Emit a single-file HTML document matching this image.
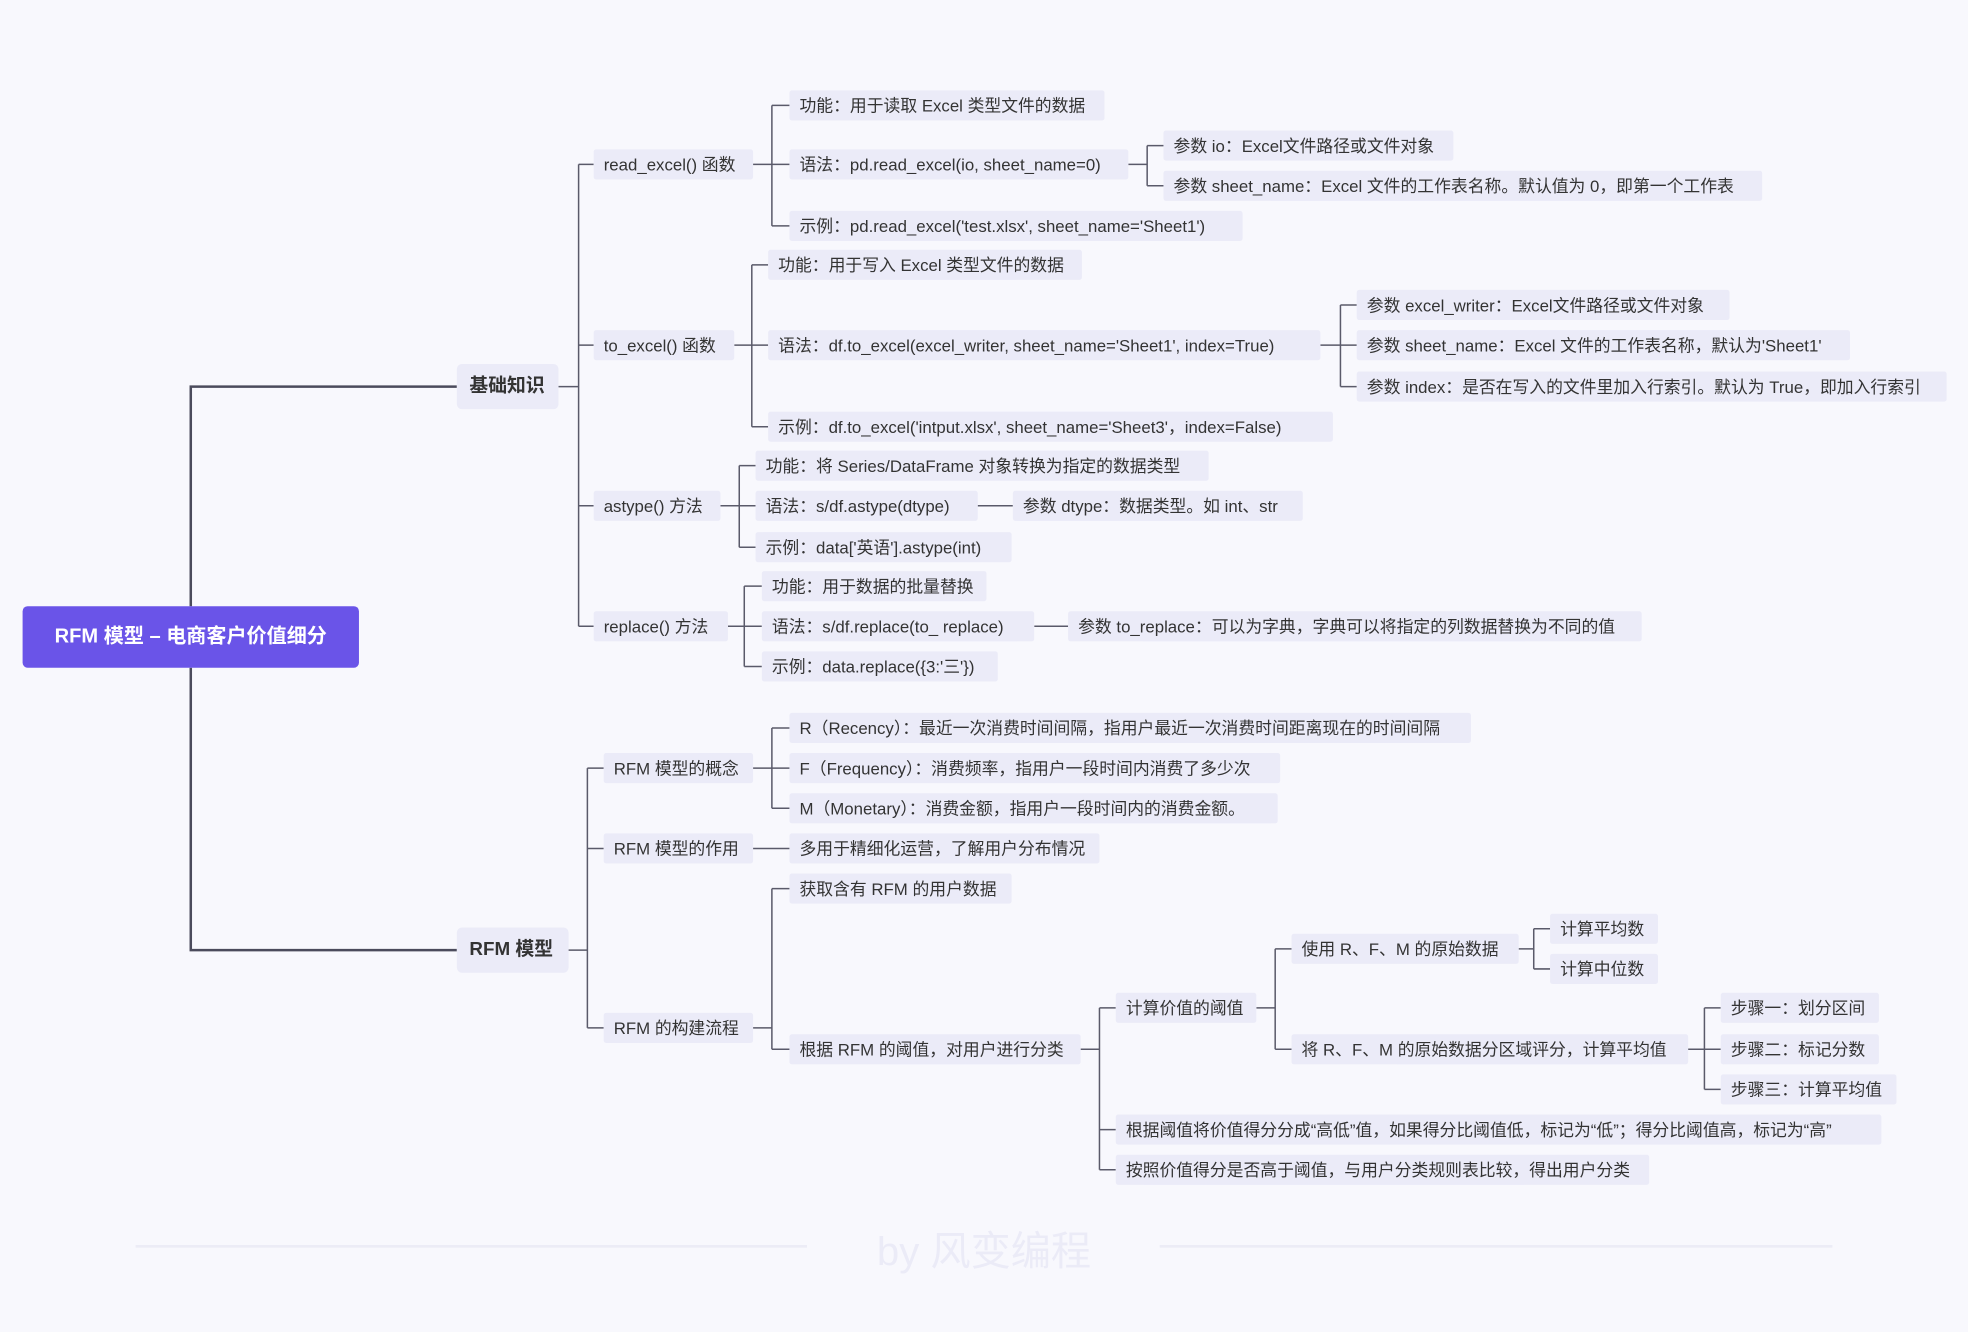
<!DOCTYPE html>
<html><head><meta charset="utf-8">
<style>
html,body{margin:0;padding:0;background:#f8f8fd;}
#wrap{position:relative;width:1568px;height:1061px;transform:scale(1.2551);transform-origin:0 0;font-family:"Liberation Sans","Noto Sans CJK SC",sans-serif;}
.b{position:absolute;height:24px;line-height:25px;background:#ebebf8;color:#333;font-size:13.4px;padding-left:8px;box-sizing:border-box;white-space:nowrap;border-radius:2px;}
.l1{height:36px;line-height:36px;font-size:15px;border-radius:4px;padding-left:10px;font-weight:bold;}
#root{position:absolute;left:18px;top:483px;width:268px;height:49px;line-height:49px;background:#6a54e8;color:#fff;font-size:16px;font-weight:bold;text-align:center;border-radius:4px;}
svg{position:absolute;left:0;top:0;}
#wm{position:absolute;left:0;width:1568px;top:972px;text-align:center;font-size:32px;color:#ebebf7;}
</style></head><body>
<div id="wrap">
<svg id="s" width="1568" height="1061">
<line x1="108" y1="993" x2="643" y2="993" stroke="#ececf6" stroke-width="2"/>
<line x1="924" y1="993" x2="1460" y2="993" stroke="#ececf6" stroke-width="2"/>
<path d="M152 483 V308 H364 M152 532 V757 H364" fill="none" stroke="#4b4b5c" stroke-width="2"/>
</svg>
<div id="wm">by 风变编程</div>
<div id="root">RFM 模型 – 电商客户价值细分</div>

<div class="b l1" style="left:364px;top:290px;width:81px">基础知识</div>
<div class="b l1" style="left:364px;top:739px;width:89px">RFM 模型</div>

<div class="b" style="left:473px;top:119px;width:127px">read_excel() 函数</div>
<div class="b" style="left:473px;top:263px;width:112px">to_excel() 函数</div>
<div class="b" style="left:473px;top:391px;width:101px">astype() 方法</div>
<div class="b" style="left:473px;top:487px;width:107px">replace() 方法</div>

<div class="b" style="left:629px;top:72px;width:251px">功能：用于读取 Excel 类型文件的数据</div>
<div class="b" style="left:629px;top:119px;width:270px">语法：pd.read_excel(io, sheet_name=0)</div>
<div class="b" style="left:629px;top:168px;width:361px">示例：pd.read_excel('test.xlsx', sheet_name='Sheet1')</div>
<div class="b" style="left:927px;top:104px;width:231px">参数 io：Excel文件路径或文件对象</div>
<div class="b" style="left:927px;top:136px;width:477px">参数 sheet_name：Excel 文件的工作表名称。默认值为 0，即第一个工作表</div>

<div class="b" style="left:612px;top:199px;width:250px">功能：用于写入 Excel 类型文件的数据</div>
<div class="b" style="left:612px;top:263px;width:440px">语法：df.to_excel(excel_writer, sheet_name='Sheet1', index=True)</div>
<div class="b" style="left:612px;top:328px;width:450px">示例：df.to_excel('intput.xlsx', sheet_name='Sheet3'，index=False)</div>
<div class="b" style="left:1081px;top:231px;width:297px">参数 excel_writer：Excel文件路径或文件对象</div>
<div class="b" style="left:1081px;top:263px;width:393px">参数 sheet_name：Excel 文件的工作表名称，默认为'Sheet1'</div>
<div class="b" style="left:1081px;top:296px;width:470px">参数 index：是否在写入的文件里加入行索引。默认为 True，即加入行索引</div>

<div class="b" style="left:602px;top:359px;width:361px">功能：将 Series/DataFrame 对象转换为指定的数据类型</div>
<div class="b" style="left:602px;top:391px;width:177px">语法：s/df.astype(dtype)</div>
<div class="b" style="left:807px;top:391px;width:231px">参数 dtype：数据类型。如 int、str</div>
<div class="b" style="left:602px;top:424px;width:204px">示例：data['英语'].astype(int)</div>

<div class="b" style="left:607px;top:455px;width:179px">功能：用于数据的批量替换</div>
<div class="b" style="left:607px;top:487px;width:217px">语法：s/df.replace(to_ replace)</div>
<div class="b" style="left:851px;top:487px;width:457px">参数 to_replace：可以为字典，字典可以将指定的列数据替换为不同的值</div>
<div class="b" style="left:607px;top:519px;width:188px">示例：data.replace({3:'三'})</div>

<div class="b" style="left:481px;top:600px;width:119px">RFM 模型的概念</div>
<div class="b" style="left:481px;top:664px;width:119px">RFM 模型的作用</div>
<div class="b" style="left:481px;top:807px;width:119px">RFM 的构建流程</div>

<div class="b" style="left:629px;top:568px;width:543px">R（Recency）：最近一次消费时间间隔，指用户最近一次消费时间距离现在的时间间隔</div>
<div class="b" style="left:629px;top:600px;width:391px">F（Frequency）：消费频率，指用户一段时间内消费了多少次</div>
<div class="b" style="left:629px;top:632px;width:389px">M（Monetary）：消费金额，指用户一段时间内的消费金额。</div>
<div class="b" style="left:629px;top:664px;width:247px">多用于精细化运营，了解用户分布情况</div>
<div class="b" style="left:629px;top:696px;width:177px">获取含有 RFM 的用户数据</div>
<div class="b" style="left:629px;top:824px;width:232px">根据 RFM 的阈值，对用户进行分类</div>

<div class="b" style="left:889px;top:791px;width:112px">计算价值的阈值</div>
<div class="b" style="left:889px;top:888px;width:610px">根据阈值将价值得分分成“高低”值，如果得分比阈值低，标记为“低”；得分比阈值高，标记为“高”</div>
<div class="b" style="left:889px;top:920px;width:425px">按照价值得分是否高于阈值，与用户分类规则表比较，得出用户分类</div>
<div class="b" style="left:1029px;top:744px;width:181px">使用 R、F、M 的原始数据</div>
<div class="b" style="left:1029px;top:824px;width:316px">将 R、F、M 的原始数据分区域评分，计算平均值</div>
<div class="b" style="left:1235px;top:728px;width:86px">计算平均数</div>
<div class="b" style="left:1235px;top:760px;width:86px">计算中位数</div>
<div class="b" style="left:1371px;top:791px;width:126px">步骤一：划分区间</div>
<div class="b" style="left:1371px;top:824px;width:126px">步骤二：标记分数</div>
<div class="b" style="left:1371px;top:856px;width:140px">步骤三：计算平均值</div>
</div>
<script>
var s=document.getElementById('s'),d='';
function c(x0,y0,v,x1,ys,w){
 var mn=Math.min.apply(null,ys),mx=Math.max.apply(null,ys);
 d+='M'+x0+' '+y0+'H'+v+'M'+v+' '+mn+'V'+mx;
 ys.forEach(function(y){d+='M'+v+' '+y+'H'+x1;});
}
c(445,308,461,473,[131,275,403,499]);
c(600,131,615,629,[84,131,180]);
c(899,131,914,927,[116,148]);
c(585,275,599,612,[211,275,340]);
c(1052,275,1068,1081,[243,275,308]);
c(574,403,589,602,[371,403,436]);
c(779,403,793,807,[403]);
c(580,499,593,607,[467,499,531]);
c(824,499,837,851,[499]);
c(453,757,468,481,[612,676,819]);
c(600,612,615,629,[580,612,644]);
c(600,676,615,629,[676]);
c(600,819,615,629,[708,836]);
c(861,836,876,889,[803,900,932]);
c(1001,803,1016,1029,[756,836]);
c(1210,756,1222,1235,[740,772]);
c(1345,836,1358,1371,[803,836,868]);
var p=document.createElementNS('http://www.w3.org/2000/svg','path');
p.setAttribute('d',d);p.setAttribute('fill','none');p.setAttribute('stroke','#5a5a6a');p.setAttribute('stroke-width','1.2');
s.appendChild(p);
</script>
</body></html>
